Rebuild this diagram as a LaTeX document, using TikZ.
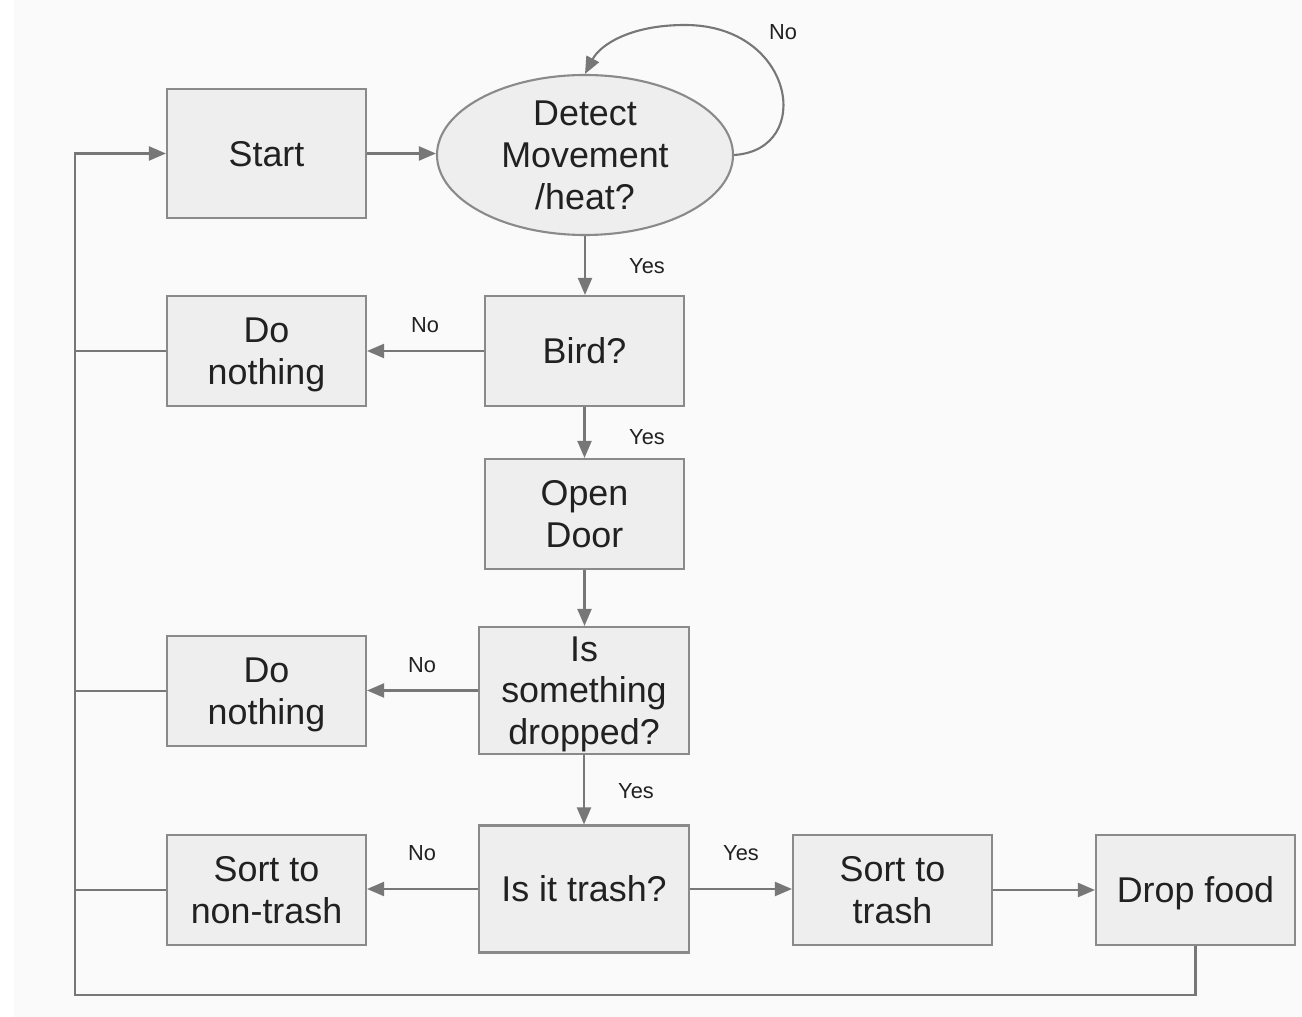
\documentclass[tikz,border=0pt]{standalone}
\usepackage{fontspec}
\setmainfont{Liberation Sans}
\usepackage{tikz}
\usetikzlibrary{positioning,arrows.meta,shapes}
\definecolor{flowgray}{HTML}{777777}
\definecolor{boxgray}{HTML}{EEEEEE}
\definecolor{edgegray}{HTML}{8A8A8A}
\definecolor{inkgray}{HTML}{212121}
\definecolor{paper}{HTML}{FAFAFA}

\begin{document}
\begin{tikzpicture}[
      box/.style={rectangle, draw=edgegray, line width=0.6pt,
        fill=boxgray, minimum width=1.99cm, minimum height=1.10cm,
        inner sep=0pt, align=center, text=inkgray, text depth=0pt,
        font=\fontsize{10.2}{11.9}\selectfont},
      bigbox/.style={box, minimum width=2.10cm, minimum height=1.27cm},
      oval/.style={box, ellipse, minimum width=2.96cm, minimum height=1.60cm},
      tag/.style={text=inkgray, inner sep=0pt, font=\fontsize{6.2}{7}\selectfont},
      arr/.style={-{Triangle[length=0.17cm, width=0.14cm]}, line width=0.6pt, color=flowgray},
      ln/.style={line width=0.6pt, color=flowgray}
    ]
      \useasboundingbox (0,0) rectangle (13.02,-10.17);
      \fill[paper] (0.14,0) rectangle (13.02,-10.17);

      \node[box, minimum height=1.29cm] (start) at (2.665,-1.535) {Start};
      \node[oval] (detect) at (5.85,-1.55) {Detect\\Movement\\/heat?};
      \node[box] (bird) at (5.845,-3.51) {Bird?};
      \node[box] (nothing1) at (2.665,-3.51) {Do\\nothing};
      \node[box] (door) at (5.845,-5.14) {Open\\Door};
      \node[bigbox] (dropped) at (5.84,-6.905) {Is\\something\\dropped?};
      \node[box] (nothing2) at (2.665,-6.91) {Do\\nothing};
      \node[bigbox] (trash) at (5.84,-8.89) {Is it trash?};
      \node[box] (nontrash) at (2.665,-8.90) {Sort to\\non-trash};
      \node[box] (sorttrash) at (8.925,-8.90) {Sort to\\trash};
      \node[box] (food) at (11.955,-8.90) {Drop food};
      \coordinate (back) at (0.75,-9.95);

      \node[tag] (no0) at (7.83,-0.32) {No};
      \node[tag] (yes1) at (6.47,-2.66) {Yes};
      \node[tag] (no1) at (4.25,-3.25) {No};
      \node[tag] (yes2) at (6.47,-4.37) {Yes};
      \node[tag] (no2) at (4.22,-6.65) {No};
      \node[tag] (yes3) at (6.36,-7.91) {Yes};
      \node[tag] (no3) at (4.22,-8.53) {No};
      \node[tag] (yes4) at (7.41,-8.53) {Yes};

      \draw[arr] (start.east) -- (start.east -| detect.west);
      \draw[arr] (detect.east) .. controls (8.15,-1.5) and (7.95,-0.25) .. (6.85,-0.25)
                 .. controls (6.3,-0.25) and (6.0,-0.45) .. (detect.north);
      \draw[arr] (detect.south) -- (detect.south |- bird.north);
      \draw[arr] (bird.west) -- (nothing1.east);
      \draw[arr] (bird.south) -- (door.north);
      \draw[arr] (door.south) -- (door.south |- dropped.north);
      \draw[arr] (dropped.west) -- (dropped.west -| nothing2.east);
      \draw[arr] (dropped.south) -- (trash.north);
      \draw[arr] (trash.west) -- (trash.west -| nontrash.east);
      \draw[arr] (trash.east) -- (trash.east -| sorttrash.west);
      \draw[arr] (sorttrash.east) -- (food.west);
      \draw[arr] (food.south) |- (back) |- (start.west);
      \draw[ln] (nothing1.west) -- (nothing1.west -| back);
      \draw[ln] (nothing2.west) -- (nothing2.west -| back);
      \draw[ln] (nontrash.west) -- (nontrash.west -| back);
    \end{tikzpicture}
\end{document}
